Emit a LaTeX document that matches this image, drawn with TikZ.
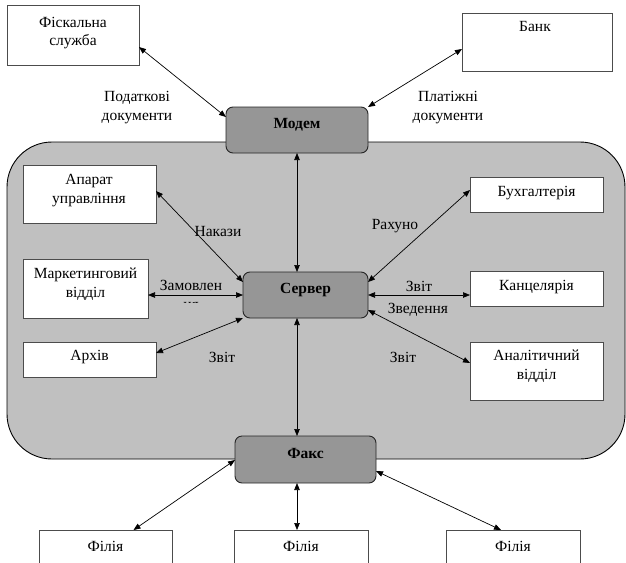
\documentclass[tikz,border=0pt]{standalone}
\usepackage{fontspec}
\setmainfont{Liberation Serif}
\usetikzlibrary{arrows.meta}
\definecolor{bggray}{HTML}{C0C0C0}
\definecolor{hubgray}{HTML}{969696}
\tikzset{
  box/.style={draw=black!70, line width=0.9pt, fill=white, rectangle, inner sep=0pt, outer sep=0pt, anchor=north west},
  hub/.style={draw=black!85, line width=0.9pt, fill=hubgray, rectangle, rounded corners=7pt, inner sep=0pt, outer sep=0pt, anchor=north west},
  txt/.style={font=\fontsize{15.5}{18.5}\selectfont, align=center, inner sep=0pt},
  btxt/.style={txt, font=\fontsize{15.5}{18.5}\selectfont\bfseries},
  link/.style={line width=0.7pt, {Triangle[length=7pt,width=5.5pt]}-{Triangle[length=7pt,width=5.5pt]}}
}
\begin{document}
\begin{tikzpicture}[x=1pt,y=-1pt]
\clip (0,0) rectangle (626,562);
\fill[white] (0,0) rectangle (626,562);
% outer area
\draw[fill=bggray, line width=0.9pt, rounded corners=45pt] (7,142) rectangle (625,459);
% boxes
\node[box, minimum width=132pt, minimum height=60pt] (fisc) at (7,5) {};
\node[box, minimum width=150pt, minimum height=58pt] (bank) at (462,13) {};
\node[box, minimum width=133pt, minimum height=58pt] (apar) at (23,165) {};
\node[box, minimum width=125pt, minimum height=59pt] (mark) at (23,259) {};
\node[box, minimum width=133pt, minimum height=35pt] (arch) at (23,342) {};
\node[box, minimum width=133pt, minimum height=35pt] (buh) at (470,177) {};
\node[box, minimum width=133pt, minimum height=35pt] (kanc) at (470,271) {};
\node[box, minimum width=133pt, minimum height=58pt] (anal) at (470,342) {};
\node[hub, minimum width=142pt, minimum height=46pt] (modem) at (226,107) {};
\node[hub, minimum width=125pt, minimum height=46pt] (server) at (243,272) {};
\node[hub, minimum width=141pt, minimum height=47pt] (fax) at (235,436) {};
\node[box, minimum width=133pt, minimum height=50pt] (fil1) at (39,530) {};
\node[box, minimum width=134pt, minimum height=50pt] (fil2) at (234,530) {};
\node[box, minimum width=134pt, minimum height=50pt] (fil3) at (446,530) {};
% connectors
\draw[link] ([yshift=-42pt]fisc.north east) -- ([yshift=-10pt]modem.north west);
\draw[link] ([yshift=-36pt]bank.north west) -- (modem.north east);
\draw[link] (modem.south) -- (modem.south |- server.north);
\draw[link] ([yshift=-26pt]apar.north east) -- ([yshift=-10pt]server.north west);
\draw[link] (mark.east |- server.west) -- (server.west);
\draw[link] ([yshift=-11pt]arch.north east) -- (server.south west);
\draw[link] ([yshift=-13pt]buh.north west) -- ([yshift=-10pt]server.north east);
\draw[link] (server.east) -- (kanc.west |- server.east);
\draw[link] ([yshift=8pt]server.south east) -- ([yshift=-21pt]anal.north west);
\draw[link] (modem.south |- server.south) -- (modem.south |- fax.north);
\draw[link] ([yshift=-24pt]fax.north west) -- ([xshift=28pt]fil1.north);
\draw[link] (modem.south |- fax.south) -- (modem.south |- fil2.north);
\draw[link] ([yshift=-35pt]fax.north east) -- ([xshift=-12pt]fil3.north);
% box texts
\node[txt] (fisct) at (73,33) {Фіскальна\\служба};
\node[txt] (bankt) at (535,27) {Банк};
\node[txt] (apart) at (89,190.5) {Апарат\\управління};
\node[txt] (markt) at (85.5,284) {Маркетинговий\\відділ};
\node[txt] (archt) at (89.5,357) {Архів};
\node[txt] (buht) at (536.5,193) {Бухгалтерія};
\node[txt] (kanct) at (536.5,287) {Канцелярія};
\node[txt] (analt) at (536.5,366) {Аналітичний\\відділ};
\node[btxt] (modemt) at (297,125) {Модем};
\node[btxt] (servert) at (305.5,290) {Сервер};
\node[btxt] (faxt) at (305.5,453) {Факс};
\node[txt] (fil1t) at (105.5,546) {Філія};
\node[txt] (fil2t) at (301,546) {Філія};
\node[txt] (fil3t) at (513,546) {Філія};
% connector labels
\node[txt] (l1) at (137,107.5) {Податкові\\документи};
\node[txt] (l2) at (448,107.5) {Платіжні\\документи};
\node[txt] (l3) at (218,231) {Накази};
\begin{scope}
\clip (150,270) rectangle (240,302.5);
\node[txt] (l4) at (191,295) {Замовлен\\ня};
\end{scope}
\node[txt] (l5) at (395,226) {Рахуно};
\node[txt] (l6) at (419,286) {Звіт};
\node[txt] (l7) at (418,310) {Зведення};
\node[txt] (l8) at (403,357) {Звіт};
\node[txt] (l9) at (222,357) {Звіт};
\end{tikzpicture}
\end{document}
